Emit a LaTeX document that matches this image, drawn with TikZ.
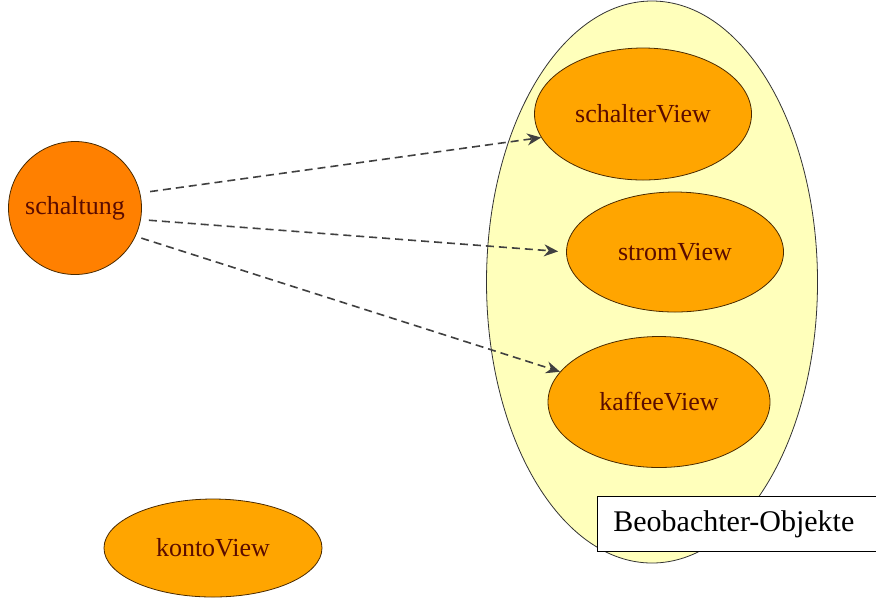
\documentclass[tikz,border=0pt]{standalone}
\usepackage{fontspec}
\setmainfont{Liberation Serif}
\usepackage{xcolor}
\usetikzlibrary{arrows.meta,shapes.geometric}

\definecolor{subjorange}{HTML}{FF8000}
\definecolor{vieworange}{HTML}{FFA500}
\definecolor{grouppale}{HTML}{FFFFBB}
\definecolor{nodeline}{HTML}{4A2A00}
\definecolor{nodetext}{HTML}{5A0C00}

\begin{document}
\begin{tikzpicture}[x=0.5pt,y=-0.5pt,
	viewnode/.style={ellipse,draw=nodeline,fill=vieworange,text=nodetext,inner sep=0pt,font=\fontsize{13}{15}\selectfont},
	notify/.style={densely dashed,dash pattern=on 4pt off 2.5pt,thick,black!75,-{Stealth[length=7pt,width=6pt]}}]
			
			\useasboundingbox (0,0) rectangle (876,602);
			
			% group of observers
			\node[ellipse,draw=black!80,fill=grouppale,minimum width=165.5pt,minimum height=281pt] (group) at (652,282) {};
			
			% subject
			\node[circle,draw=nodeline,fill=subjorange,text=nodetext,minimum size=66.5pt,inner sep=0pt,font=\fontsize{13}{15}\selectfont] (schaltung) at (75,208) {schaltung};
			
			% observers
			\node[viewnode,minimum width=108.5pt,minimum height=66pt] (schalterView) at (643,114) {schalterView};
			\node[viewnode,minimum width=108.5pt,minimum height=60pt] (stromView) at (675,252) {stromView};
			\node[viewnode,minimum width=111pt,minimum height=65.5pt] (kaffeeView) at (659,402) {kaffeeView};
			
			% not registered
			\node[viewnode,minimum width=109pt,minimum height=49pt] (kontoView) at (213,548) {kontoView};
			
			% label
			\node[draw=black,fill=white,anchor=north west,minimum height=27.5pt,text width=123.5pt,inner xsep=8pt,align=left,font=\fontsize{15}{17}\selectfont] (label) at (597,496) {Beobachter-Objekte};
			
			% notifications
			\draw[notify,shorten <=5pt] (schaltung.13) -- (schalterView.193);
			\draw[notify,shorten <=4pt,shorten >=4pt] (schaltung.-10) -- (stromView.west);
			\draw[notify,shorten <=3pt] (schaltung.-25) -- (kaffeeView.163);
			
		\end{tikzpicture}
\end{document}
